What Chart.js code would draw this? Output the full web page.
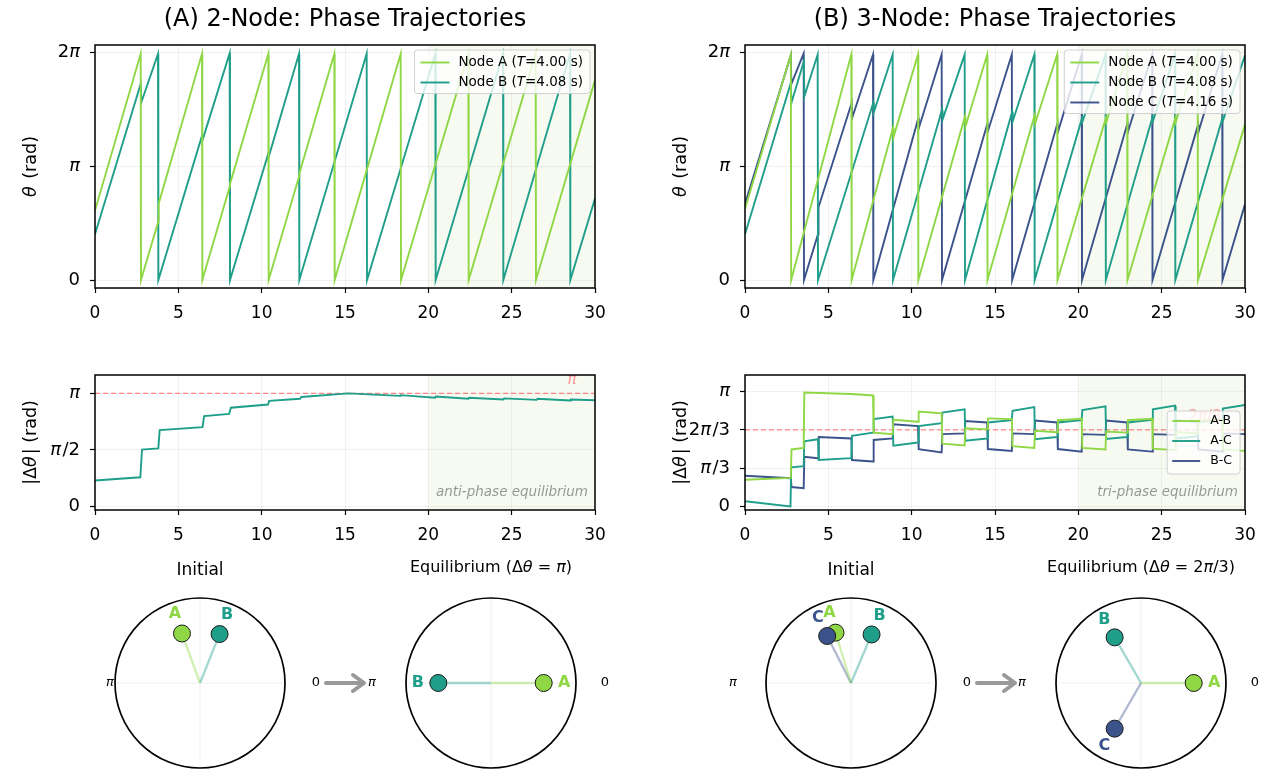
<!DOCTYPE html>
<html><head><meta charset="utf-8">
<script src="https://cdn.jsdelivr.net/npm/chart.js@4.4.0/dist/chart.umd.min.js"></script>
<style>
html,body{margin:0;padding:0;background:#fff;overflow:hidden;width:1270px;height:772px;}
#wrap{position:relative;width:1270px;height:772px;background:#fff;}
canvas{position:absolute;}
</style></head><body><div id="wrap"></div>
<script>
// ---------------- DATA ----------------
const timeRange = [0, 30];
const xTickStep = 5;
const eqWindow = [20, 30];
const nodeNames = ['A', 'B', 'C'];
const periods = [4.00, 4.08, 4.16];
const nodeColors = ['#8fd744', '#1f9e89', '#3b528b'];

// 2-node phase trajectories [t, theta]
const theta2A = [[0,1.93],[2.74,6.24],[2.76,0.02],[3.80,1.63],[3.82,2.12],[6.42,6.24],[6.44,0.02],[8.08,2.58],[8.10,2.66],[10.40,6.24],[10.42,0.02],[12.24,2.86],[12.26,2.95],[14.36,6.24],[14.38,0.02],[18.34,6.24],[18.36,0.02],[22.40,6.24],[22.42,0.02],[26.44,6.24],[26.46,0.02],[30,5.52]];
const theta2B = [[0,1.28],[2.74,5.41],[2.78,4.91],[3.78,6.24],[3.80,0.02],[6.42,3.99],[6.46,3.88],[8.08,6.26],[8.10,0.02],[10.40,3.50],[10.43,3.42],[12.24,6.24],[12.26,0.02],[16.30,6.24],[16.32,0.02],[20.42,6.24],[20.44,0.02],[24.48,6.24],[24.50,0.02],[28.50,6.24],[28.52,0.02],[30,2.26]];

// 3-node phase trajectories [t, theta]
const theta3A = [[0,1.97],[2.75,6.22],[2.77,0.02],[6.38,6.22],[6.40,0.02],[8.88,4.20],[8.91,3.95],[10.38,6.22],[10.40,0.02],[13.20,4.52],[13.23,4.24],[14.53,6.22],[14.55,0.02],[17.38,4.56],[17.41,4.33],[18.73,6.22],[18.75,0.02],[21.65,4.47],[21.68,4.36],[22.93,6.22],[22.95,0.02],[25.82,4.47],[25.85,4.38],[27.16,6.22],[27.18,0.02],[30,4.30]];
const theta3B = [[0,1.28],[2.75,5.44],[2.78,4.89],[3.53,6.03],[3.56,5.07],[4.36,6.22],[4.38,0.02],[7.70,4.90],[7.73,4.63],[8.86,6.22],[8.88,0.02],[11.82,4.70],[11.85,4.43],[13.18,6.22],[13.20,0.02],[16.03,4.65],[16.06,4.38],[17.36,6.22],[17.38,0.02],[20.22,4.47],[20.25,4.38],[21.63,6.22],[21.65,0.02],[24.45,4.50],[24.48,4.40],[25.80,6.22],[25.82,0.02],[28.65,4.48],[28.68,4.40],[30,6.20]];
const theta3C = [[0,2.11],[2.75,6.20],[2.78,5.41],[3.52,6.25],[3.54,0.02],[4.38,1.28],[4.41,2.02],[6.40,4.89],[6.43,4.48],[7.68,6.22],[7.70,0.02],[10.40,4.47],[10.43,4.20],[11.80,6.22],[11.82,0.02],[14.55,4.33],[14.58,4.12],[16.01,6.22],[16.03,0.02],[18.75,4.33],[18.78,4.10],[20.20,6.22],[20.22,0.02],[22.95,4.33],[22.98,4.10],[24.43,6.22],[24.45,0.02],[27.18,4.28],[27.21,4.10],[28.63,6.22],[28.65,0.02],[30,2.10]];

// |delta theta| 2-node
const dTheta2AB = [[0,0.72],[2.72,0.81],[2.82,1.58],[3.80,1.61],[3.88,2.12],[6.45,2.20],[6.55,2.51],[8.05,2.57],[8.15,2.74],[10.38,2.83],[10.45,2.93],[12.30,2.99],[12.38,3.04],[15.20,3.14],[18.30,3.07],[18.35,3.09],[20.40,3.02],[20.45,3.05],[22.40,2.99],[22.45,3.02],[24.50,2.97],[24.55,3.00],[26.50,2.96],[26.55,2.99],[28.50,2.94],[28.55,2.97],[30,2.95]];

// |delta theta| 3-node
const dTheta3AB = [[0,0.73],[2.75,0.78],[2.79,1.56],[3.52,1.60],[3.56,3.12],[6.40,3.08],[7.68,3.04],[7.72,2.02],[8.86,1.98],[8.90,2.37],[10.38,2.32],[10.42,2.60],[11.80,2.55],[11.84,1.72],[13.18,1.67],[13.22,2.14],[14.53,2.11],[14.57,2.41],[16.01,2.39],[16.05,1.65],[17.36,1.60],[17.40,2.07],[18.73,2.03],[18.77,2.36],[20.20,2.40],[20.24,1.60],[21.63,1.56],[21.67,2.05],[22.93,2.02],[22.97,2.36],[24.43,2.40],[24.47,1.58],[25.80,1.54],[25.84,2.04],[27.16,2.00],[27.20,2.34],[28.63,2.38],[28.67,1.56],[30,1.52]];
const dTheta3AC = [[0,0.14],[2.73,0.00],[2.77,1.07],[3.52,1.10],[3.56,1.78],[4.38,1.84],[4.42,1.27],[6.38,1.32],[6.42,1.93],[7.68,2.02],[7.72,2.39],[8.86,2.46],[8.90,1.66],[10.38,1.75],[10.42,2.20],[11.80,2.28],[11.84,2.57],[13.18,2.66],[13.22,1.80],[14.53,1.86],[14.57,2.30],[16.01,2.36],[16.05,2.62],[17.36,2.72],[17.40,1.84],[18.73,1.90],[18.77,2.30],[20.20,2.36],[20.24,2.64],[21.63,2.74],[21.67,1.85],[22.93,1.90],[22.97,2.30],[24.43,2.37],[24.47,2.66],[25.80,2.76],[25.84,1.86],[27.16,1.92],[27.20,2.31],[28.63,2.38],[28.67,2.68],[30,2.78]];
const dTheta3BC = [[0,0.84],[2.75,0.77],[2.79,0.53],[3.52,0.50],[3.56,1.36],[4.38,1.32],[4.42,1.90],[6.38,1.86],[6.42,1.27],[7.68,1.23],[7.72,1.82],[8.86,1.86],[8.90,2.25],[10.38,2.20],[10.42,1.57],[11.80,1.48],[11.84,1.98],[13.18,2.00],[13.22,2.34],[14.53,2.30],[14.57,1.57],[16.01,1.52],[16.05,2.00],[17.36,1.98],[17.40,2.35],[18.73,2.30],[18.77,1.57],[20.20,1.50],[20.24,1.98],[21.63,1.96],[21.67,2.35],[22.93,2.30],[22.97,1.56],[24.43,1.50],[24.47,1.98],[25.80,1.96],[25.84,2.36],[27.16,2.31],[27.20,1.56],[28.63,1.50],[28.67,2.00],[30,1.98]];
const pairNames = ['A-B', 'A-C', 'B-C'];

// tick values / labels ($..$ = italic)
const thetaTickVals = [0, Math.PI, 2 * Math.PI];
const thetaTickLabels = ['0', '$π$', '2$π$'];
const dTick2Vals = [0, Math.PI / 2, Math.PI];
const dTick2Labels = ['0', '$π$/2', '$π$'];
const dTick3Vals = [0, Math.PI / 3, 2 * Math.PI / 3, Math.PI];
const dTick3Labels = ['0', '$π$/3', '2$π$/3', '$π$'];

// polar snapshots (angles in rad)
const polarInit2 = [1.92, 1.19];
const polarEq2 = [0, Math.PI];
const polarInit3 = [1.87, 1.17, 2.04];
const polarEq3 = [0, 2 * Math.PI / 3, 4 * Math.PI / 3];

// ---------------- HELPERS ----------------
const FONT = '"DejaVu Sans", sans-serif';
Chart.defaults.font.family = FONT;
const GRID = 'rgba(0,0,0,0.07)';
const SHADE = 'rgba(139,195,74,0.08)';
const wrap = document.getElementById('wrap');

function mkCanvas(left, top, w, h) {
  const c = document.createElement('canvas');
  c.width = w; c.height = h;
  c.style.left = left + 'px'; c.style.top = top + 'px';
  c.style.width = w + 'px'; c.style.height = h + 'px';
  wrap.appendChild(c);
  return c;
}
function parseRich(s) { return s.split('$').map((t, i) => [t, i % 2 === 1]).filter(p => p[0].length); }
function setFont(ctx, size, it, bold) { ctx.font = (it ? 'italic ' : '') + (bold ? 'bold ' : '') + size + 'px ' + FONT; }
function richW(ctx, parts, size, bold, gap) {
  gap = gap || 0; let w = 0;
  parts.forEach(([t, it], i) => { setFont(ctx, size, it, bold); w += ctx.measureText(t).width; if (it && i < parts.length - 1) w += gap; });
  return w;
}
function drawRich(ctx, s, x, y, size, align, color, bold, gap) {
  gap = gap || 0;
  const parts = parseRich(s); const w = richW(ctx, parts, size, bold, gap);
  let sx = align === 'center' ? x - w / 2 : align === 'right' ? x - w : x;
  ctx.fillStyle = color; ctx.textAlign = 'left'; ctx.textBaseline = 'middle';
  parts.forEach(([t, it], i) => { setFont(ctx, size, it, bold); ctx.fillText(t, sx, y); sx += ctx.measureText(t).width; if (it && i < parts.length - 1) sx += gap; });
  return w;
}
function hexA(hex, a) { const n = parseInt(hex.slice(1), 16); return `rgba(${n >> 16},${(n >> 8) & 255},${n & 255},${a})`; }
function rrect(ctx, x, y, w, h, r) {
  ctx.beginPath(); ctx.moveTo(x + r, y); ctx.lineTo(x + w - r, y); ctx.quadraticCurveTo(x + w, y, x + w, y + r);
  ctx.lineTo(x + w, y + h - r); ctx.quadraticCurveTo(x + w, y + h, x + w - r, y + h); ctx.lineTo(x + r, y + h);
  ctx.quadraticCurveTo(x, y + h, x, y + h - r); ctx.lineTo(x, y + r); ctx.quadraticCurveTo(x, y, x + r, y); ctx.closePath();
}
function drawLegend(ctx, a, L) {
  let maxW = 0; L.items.forEach(it => { maxW = Math.max(maxW, richW(ctx, parseRich(it.label), L.size)); });
  const n = L.items.length;
  const w = L.padL + L.lineLen + L.gap + maxW + L.padR;
  const h = L.padT + L.padB + L.rowH * (n - 1);
  const x0 = a.right - L.mr - w;
  const y0 = L.loc === 'center' ? (a.top + a.bottom) / 2 - h / 2 : a.top + L.mt;
  rrect(ctx, x0, y0, w, h, 3); ctx.fillStyle = 'rgba(255,255,255,0.8)'; ctx.fill();
  ctx.strokeStyle = '#d0d0d0'; ctx.lineWidth = 1; ctx.stroke();
  L.items.forEach((it, i) => {
    const yy = y0 + L.padT + i * L.rowH;
    ctx.strokeStyle = it.color; ctx.lineWidth = 1.9; ctx.beginPath();
    ctx.moveTo(x0 + L.padL, yy); ctx.lineTo(x0 + L.padL + L.lineLen, yy); ctx.stroke();
    drawRich(ctx, it.label, x0 + L.padL + L.lineLen + L.gap, yy, L.size, 'left', '#000');
  });
}
function decoPlugin(o) {
  return {
    id: 'deco',
    beforeDatasetsDraw(chart) {
      const { ctx, chartArea: a, scales: { x, y } } = chart; ctx.save();
      if (o.shade) { const x0 = x.getPixelForValue(o.shade[0]), x1 = x.getPixelForValue(o.shade[1]); ctx.fillStyle = SHADE; ctx.fillRect(x0, a.top, x1 - x0, a.bottom - a.top); }
      if (o.ref) {
        const py = y.getPixelForValue(o.ref.value);
        ctx.strokeStyle = 'rgba(255,60,60,0.6)'; ctx.lineWidth = 1.2; ctx.setLineDash([5, 3]);
        ctx.beginPath(); ctx.moveTo(a.left, py); ctx.lineTo(a.right, py); ctx.stroke(); ctx.setLineDash([]);
      }
      ctx.restore();
    },
    afterDatasetsDraw(chart) {
      const { ctx, chartArea: a, scales: { x, y } } = chart; ctx.save();
      if (o.ref) { const py = y.getPixelForValue(o.ref.value); drawRich(ctx, o.ref.label, a.right - o.ref.dx, py - 13, 15, 'center', 'rgba(255,60,60,0.55)'); }
      if (o.note) drawRich(ctx, '$' + o.note + '$', a.right - 7, a.bottom - 18, 13.5, 'right', 'rgba(0,0,0,0.4)');
      if (o.legend) drawLegend(ctx, a, o.legend);
      ctx.strokeStyle = '#000'; ctx.lineWidth = 1.5; ctx.strokeRect(a.left, a.top, a.right - a.left, a.bottom - a.top);
      o.yVals.forEach((v, i) => drawRich(ctx, o.yLabels[i], a.left - 15, y.getPixelForValue(v), 18, 'right', '#000', false, 1.5));
      ctx.save(); ctx.translate(o.yTitleX, (a.top + a.bottom) / 2); ctx.rotate(-Math.PI / 2);
      drawRich(ctx, o.yTitle, 0, 0, 17.5, 'center', '#000', false, 2); ctx.restore();
      if (o.title) drawRich(ctx, o.title, (a.left + a.right) / 2, 20, 24, 'center', '#000');
      ctx.restore();
    }
  };
}
function toXY(arr) { return arr.map(p => ({ x: p[0], y: p[1] })); }
function lineChart(canvas, series, o) {
  const datasets = series.map(s => ({ data: toXY(s.data), borderColor: s.color, borderWidth: 1.9, pointRadius: 0, fill: false, tension: 0 }));
  return new Chart(canvas, {
    type: 'line', data: { datasets },
    options: {
      responsive: false, animation: false, devicePixelRatio: 1,
      layout: { padding: { top: o.padTop, right: o.padRight, left: 0, bottom: 0 } },
      plugins: { legend: { display: false }, tooltip: { enabled: false } },
      scales: {
        x: {
          type: 'linear', min: timeRange[0], max: timeRange[1],
          ticks: { stepSize: xTickStep, color: '#000', font: { size: 17 }, padding: 10, maxRotation: 0, autoSkip: false },
          grid: { color: GRID, lineWidth: 0.8, tickColor: '#000', tickLength: 5, tickWidth: 1.2 },
          border: { display: false },
          afterFit: s => { s.height = o.xAxisH; }
        },
        y: {
          type: 'linear', min: o.ymin, max: o.ymax,
          afterBuildTicks: s => { s.ticks = o.yVals.map(v => ({ value: v })); },
          ticks: { display: false },
          grid: { color: GRID, lineWidth: 0.8, tickColor: '#000', tickLength: 5, tickWidth: 1.2 },
          border: { display: false },
          afterFit: s => { s.width = 95; }
        }
      }
    },
    plugins: [decoPlugin(o)]
  });
}

// ---------------- LINE CHARTS ----------------
const legend2 = nodeNames.slice(0, 2).map((n, i) => ({ label: `Node ${n} ($T$=${periods[i].toFixed(2)} s)`, color: nodeColors[i] }));
const legend3 = nodeNames.map((n, i) => ({ label: `Node ${n} ($T$=${periods[i].toFixed(2)} s)`, color: nodeColors[i] }));
const legStyleTop = { size: 13.5, rowH: 20, lineLen: 29, padL: 6, gap: 9, padR: 7, padT: 12.5, padB: 11, mr: 5, mt: 5, loc: 'upper' };

lineChart(mkCanvas(0, 0, 635, 340),
  [{ data: theta2A, color: nodeColors[0] }, { data: theta2B, color: nodeColors[1] }],
  { padTop: 45, padRight: 40, xAxisH: 52, ymin: -0.2, ymax: 2 * Math.PI + 0.2, yVals: thetaTickVals, yLabels: thetaTickLabels,
    yTitle: '$θ$ (rad)', yTitleX: 31, title: '(A) 2-Node: Phase Trajectories', shade: eqWindow,
    legend: Object.assign({ items: legend2 }, legStyleTop) });

lineChart(mkCanvas(650, 0, 620, 340),
  [{ data: theta3A, color: nodeColors[0] }, { data: theta3B, color: nodeColors[1] }, { data: theta3C, color: nodeColors[2] }],
  { padTop: 45, padRight: 25, xAxisH: 52, ymin: -0.2, ymax: 2 * Math.PI + 0.2, yVals: thetaTickVals, yLabels: thetaTickLabels,
    yTitle: '$θ$ (rad)', yTitleX: 31, title: '(B) 3-Node: Phase Trajectories', shade: eqWindow,
    legend: Object.assign({ items: legend3 }, legStyleTop) });

lineChart(mkCanvas(0, 340, 635, 215),
  [{ data: dTheta2AB, color: nodeColors[1] }],
  { padTop: 35, padRight: 40, xAxisH: 45, ymin: -0.1, ymax: 3.65, yVals: dTick2Vals, yLabels: dTick2Labels,
    yTitle: '|Δ$θ$| (rad)', yTitleX: 31, shade: eqWindow, note: 'anti-phase equilibrium',
    ref: { value: Math.PI, label: '$π$', dx: 23 } });

lineChart(mkCanvas(650, 340, 620, 215),
  [{ data: dTheta3AB, color: nodeColors[0] }, { data: dTheta3AC, color: nodeColors[1] }, { data: dTheta3BC, color: nodeColors[2] }],
  { padTop: 35, padRight: 25, xAxisH: 45, ymin: -0.1, ymax: 3.6, yVals: dTick3Vals, yLabels: dTick3Labels,
    yTitle: '|Δ$θ$| (rad)', yTitleX: 31, shade: eqWindow, note: 'tri-phase equilibrium',
    ref: { value: 2 * Math.PI / 3, label: '2$π$/3', dx: 40 },
    legend: { items: pairNames.map((p, i) => ({ label: p, color: nodeColors[i] })), size: 12.5, rowH: 20, lineLen: 28, padL: 5, gap: 10, padR: 8, padT: 10, padB: 13, mr: 5, loc: 'center' } });

// ---------------- POLAR SNAPSHOTS ----------------
const PR = 85, PCY = 683, PTOP = 555, PH = 217, PW = 340;
const DOT_R = 0.62, LAB_R = 0.86;
function polarChart(cx, angles, o) {
  const canvas = mkCanvas(cx - PW / 2, PTOP, PW, PH);
  const n = angles.length;
  const pts = angles.map(t => ({ x: DOT_R * Math.cos(t), y: DOT_R * Math.sin(t) }));
  const datasets = [{
    data: pts, pointRadius: 8.5, pointBackgroundColor: nodeColors.slice(0, n), pointBorderColor: '#1a1a1a',
    pointBorderWidth: 1, showLine: false, order: 0
  }];
  pts.forEach((p, i) => datasets.push({ data: [{ x: 0, y: 0 }, p], showLine: true, borderColor: hexA(nodeColors[i], 0.4), borderWidth: 2.4, pointRadius: 0, order: 1 }));
  new Chart(canvas, {
    type: 'scatter', data: { datasets },
    options: {
      responsive: false, animation: false, devicePixelRatio: 1,
      layout: { padding: 0, autoPadding: false },
      plugins: { legend: { display: false }, tooltip: { enabled: false } },
      scales: {
        x: { type: 'linear', min: -PW / 2 / PR, max: PW / 2 / PR, display: false },
        y: { type: 'linear', min: -(PTOP + PH - PCY) / PR, max: (PCY - PTOP) / PR, display: false }
      }
    },
    plugins: [{
      id: 'polar',
      beforeDatasetsDraw(chart) {
        const { ctx, scales: { x, y } } = chart; const c0 = x.getPixelForValue(0), c1 = y.getPixelForValue(0);
        const r = x.getPixelForValue(1) - c0; ctx.save();
        ctx.strokeStyle = '#ececec'; ctx.lineWidth = 0.8; ctx.beginPath();
        ctx.moveTo(c0 - r, c1); ctx.lineTo(c0 + r, c1); ctx.moveTo(c0, c1 - r); ctx.lineTo(c0, c1 + r); ctx.stroke();
        ctx.restore();
      },
      afterDatasetsDraw(chart) {
        const { ctx, scales: { x, y } } = chart; const c0 = x.getPixelForValue(0), c1 = y.getPixelForValue(0);
        const r = x.getPixelForValue(1) - c0; ctx.save();
        ctx.strokeStyle = '#000'; ctx.lineWidth = 1.7; ctx.beginPath(); ctx.arc(c0, c1, r, 0, 2 * Math.PI); ctx.stroke();
        angles.forEach((t, i) => drawRich(ctx, nodeNames[i], x.getPixelForValue(LAB_R * Math.cos(t)), y.getPixelForValue(LAB_R * Math.sin(t)), 16, 'center', nodeColors[i], true));
        drawRich(ctx, '0', c0 + o.zeroDx, c1, 13, 'center', '#000');
        drawRich(ctx, '$π$', c0 - o.piDx, c1, 13, 'center', '#000');
        drawRich(ctx, o.title, c0, o.titleY, o.titleSize, 'center', '#000');
        if (o.arrow) {
          ctx.strokeStyle = '#999'; ctx.lineWidth = 4; ctx.lineCap = 'round'; ctx.lineJoin = 'round';
          ctx.beginPath(); ctx.moveTo(c0 + 126, c1); ctx.lineTo(c0 + 163, c1); ctx.stroke();
          ctx.beginPath(); ctx.moveTo(c0 + 153, c1 - 8); ctx.lineTo(c0 + 164, c1); ctx.lineTo(c0 + 153, c1 + 8); ctx.stroke();
        }
        ctx.restore();
      }
    }]
  });
}
polarChart(200, polarInit2, { title: 'Initial', titleY: 16, titleSize: 17, zeroDx: 116, piDx: 90, arrow: true });
polarChart(491, polarEq2, { title: 'Equilibrium (Δ$θ$ = $π$)', titleY: 13, titleSize: 16, zeroDx: 114, piDx: 119, arrow: false });
polarChart(851, polarInit3, { title: 'Initial', titleY: 16, titleSize: 17, zeroDx: 116, piDx: 118, arrow: true });
polarChart(1141, polarEq3, { title: 'Equilibrium (Δ$θ$ = 2$π$/3)', titleY: 13, titleSize: 16, zeroDx: 114, piDx: 119, arrow: false });
</script></body></html>
